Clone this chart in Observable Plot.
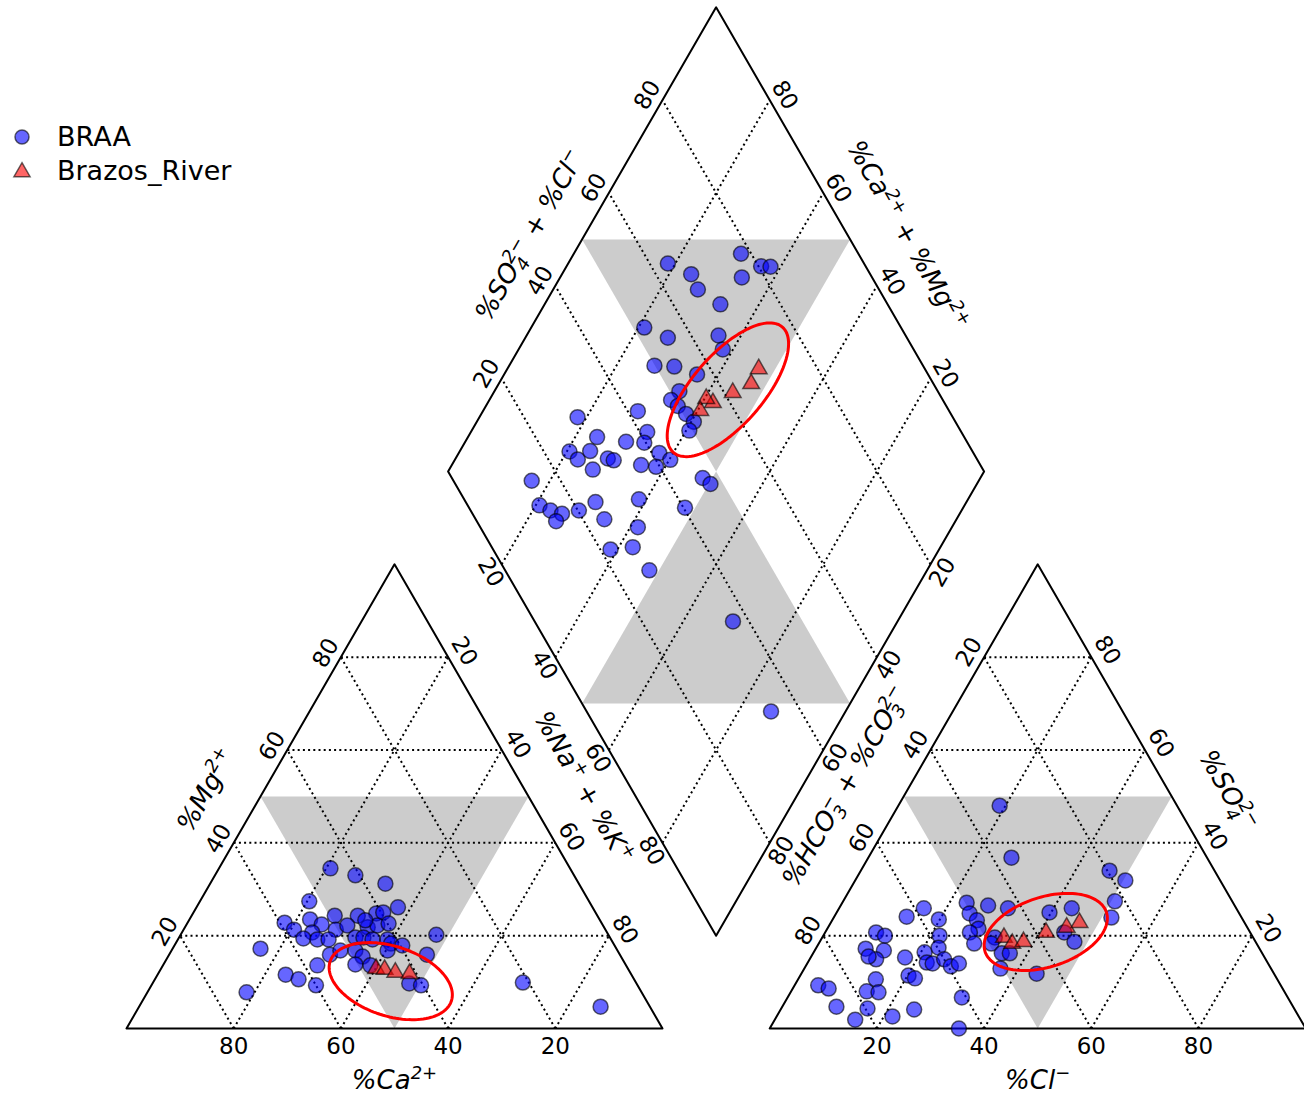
<!DOCTYPE html>
<html><head><meta charset="utf-8">
<script src="https://cdn.jsdelivr.net/npm/d3@7"></script>
<script src="https://cdn.jsdelivr.net/npm/@observablehq/plot@0.6"></script>
<style>
body{margin:0;background:#fff;font-family:"DejaVu Sans",sans-serif;}
#wrap{position:relative;width:1304px;height:1095px;overflow:hidden;}
#legend{position:absolute;left:0;top:0;}
</style></head><body><div id="wrap"></div>
<script>
// ---------- data (percent of meq) ----------
const ticks = [20, 40, 60, 80];
const seriesNames = ["BRAA", "Brazos_River"];
// cation triangle
const braaCa = [44.7,40.8,36.1,52.2,36.3,41.0,39.6,44.7,49.0,59.1,54.0,52.4,58.1,55.0,50.3,47.7,44.1,42.1,39.8,43.8,57.3,54.8,52.7,47.5,46.0,44.5,41.7,41.5,39.6,32.1,66.4,54.1,51.7,48.9,42.9,48.2,57.6,50.4,47.7,36.0,64.5,62.6,60.0,42.4,40.4,73.7,21.1,9.2];
const braaMg = [34.5,33.0,31.2,27.4,26.1,24.8,25.0,24.3,24.3,22.8,23.5,22.4,21.3,20.7,21.3,22.2,21.8,22.2,22.6,23.3,19.4,19.2,19.2,19.6,19.6,19.2,19.2,18.3,17.9,20.2,17.2,15.9,16.8,16.8,16.8,15.5,13.6,13.8,13.6,15.9,11.6,10.6,9.3,9.7,9.3,7.8,9.9,4.7];
const brazosCa = [47.0,45.5,43.8,41.3];
const brazosMg = [12.9,12.7,12.1,11.8];
// anion triangle
const braaCl = [15.8,13.5,19.8,9.5,11.5,21.7,9.3,12.9,17.6,20.7,22.8,12.4,10.7,22.2,23.4,25.1,27.1,20.2,21.7,14.5,4.4,6.7,14.1,16.4,10.1,16.1,24.9,15.0,21.6,18.9,26.7,46.4,50.4,50.7,51.8,23.2,27.5,31.5,24.9,27.0,28.2,27.0,29.0,32.2,32.2,35.2,36.7,36.6,43.9,39.7,43.4,44.6,47.5,28.3,32.5,35.3];
const braaSO4 = [25.9,24.1,23.5,20.7,20.0,20.0,17.2,16.8,15.3,16.4,17.4,14.9,15.5,14.2,14.0,14.9,13.4,11.4,10.8,10.6,9.3,8.6,8.0,7.8,4.7,4.3,4.1,1.9,2.6,48.0,36.8,34.0,31.9,27.4,23.9,27.1,26.5,25.9,24.8,23.3,21.5,20.7,18.3,19.6,18.3,16.2,16.2,12.9,11.8,25.0,25.9,20.7,18.7,14.0,6.7,0.0];
const brazosCl = [33.9,36.1,38.0,41.2,44.5,46.4];
const brazosSO4 = [19.6,18.3,18.7,20.7,21.8,22.8];
// diamond: SO4+Cl and Ca+Mg
const braaSO4Cl = [78.1,63.4,66.6,66.2,80.5,82.2,75.7,68.8,52.1,55.4,65.1,64.4,49.9,53.5,56.9,51.8,49.3,49.9,50.6,51.2,49.4,41.9,41.4,39.7,41.4,42.7,39.3,36.7,46.8,47.6,30.0,31.5,36.4,24.8,25.5,28.7,31.2,32.1,27.2,14.6,13.4,14.9,16.7,14.8,20.2,24.2,32.6,24.0,40.3,29.4,21.9,26.3,26.9,37.0,34.4];
const braaCaMg = [68.8,81.4,75.9,73.0,63.7,61.9,66.1,67.2,78.9,73.4,64.2,61.9,72.9,69.1,64.0,65.5,66.1,64.2,61.8,59.5,59.4,71.1,67.1,66.5,62.6,59.8,61.7,64.7,51.8,49.7,81.7,75.9,70.0,79.5,77.1,75.7,71.6,70.3,73.2,83.4,79.3,76.7,74.2,74.5,71.4,69.2,61.4,65.7,51.9,58.6,61.3,57.4,51.8,30.7,13.9];
const brazosSO4Cl = [69.0,66.0,61.6,56.8,56.0,53.6];
const brazosCaMg = [53.1,52.9,55.4,58.0,59.7,59.5];

// ---------- Piper geometry ----------
const H = Math.sqrt(3) / 2;
const cat = (ca, mg) => ({x: 100 - ca - mg / 2, y: mg * H});
const an = (cl, so4) => ({x: 120 + cl + so4 / 2, y: so4 * H});
const dia = (a, c) => ({x: 110 + (a - c) / 2, y: 20 * H + (a + c) * H});

const braaPts = [
  ...braaCa.map((v, i) => cat(v, braaMg[i])),
  ...braaCl.map((v, i) => an(v, braaSO4[i])),
  ...braaSO4Cl.map((v, i) => dia(v, braaCaMg[i]))
];
const brazosPts = [
  ...brazosCa.map((v, i) => cat(v, brazosMg[i])),
  ...brazosCl.map((v, i) => an(v, brazosSO4[i])),
  ...brazosSO4Cl.map((v, i) => dia(v, brazosCaMg[i]))
];

const frames = [
  [cat(100, 0), cat(0, 0), cat(0, 100), cat(100, 0)],
  [an(0, 0), an(100, 0), an(0, 100), an(0, 0)],
  [dia(0, 0), dia(100, 0), dia(100, 100), dia(0, 100), dia(0, 0)]
].flatMap((poly, id) => poly.map(p => ({...p, id})));

const shades = [
  [cat(50, 50), cat(0, 50), cat(50, 0)],
  [an(0, 50), an(50, 50), an(50, 0)],
  [dia(50, 100), dia(100, 50), dia(50, 50)],
  [dia(0, 50), dia(50, 0), dia(50, 50)]
].flatMap((poly, id) => poly.map(p => ({...p, id})));

const grid = [];
for (const v of ticks) {
  grid.push([cat(100 - v, v), cat(0, v)]);
  grid.push([cat(v, 0), cat(v, 100 - v)]);
  grid.push([cat(100 - v, 0), cat(0, 100 - v)]);
  grid.push([an(0, v), an(100 - v, v)]);
  grid.push([an(v, 0), an(v, 100 - v)]);
  grid.push([an(100 - v, 0), an(0, 100 - v)]);
  grid.push([dia(v, 0), dia(v, 100)]);
  grid.push([dia(0, v), dia(100, v)]);
}

// tick label sets: [points, dx, dy, rotate]
const tickSets = [
  [ticks.map(v => ({...cat(v, 0), t: v})), 0, 18, 0],
  [ticks.map(v => ({...cat(100 - v, v), t: v})), -15, -4, -60],
  [ticks.map(v => ({...cat(0, 100 - v), t: v})), 16, -6, 60],
  [ticks.map(v => ({...an(v, 0), t: v})), 0, 18, 0],
  [ticks.map(v => ({...an(0, 100 - v), t: v})), -15, -5, -60],
  [ticks.map(v => ({...an(100 - v, v), t: v})), 16, -7, 60],
  [ticks.map(v => ({...dia(v, 100), t: v})), -15, -5, -60],
  [ticks.map(v => ({...dia(100, v), t: v})), 15, -5, 60],
  [ticks.map(v => ({...dia(0, 100 - v), t: v})), -11, 8, 60],
  [ticks.map(v => ({...dia(100 - v, 0), t: v})), 12, 8, -60]
];

// axis titles (^{..} superscript, _{..} subscript)
const titles = [
  [cat(50, 50), "%Mg^{2+}", -54, -6, -60],
  [cat(50, 0), "%Ca^{2+}", 0, 52, 0],
  [cat(0, 50), "%Na^{+} + %K^{+}", 55, -9, 60],
  [an(0, 50), "%HCO_{3}^{\u2212} + %CO_{3}^{2\u2212}", -58, -10, -60],
  [an(50, 0), "%Cl^{\u2212}", 0, 52, 0],
  [an(50, 50), "%SO_{4}^{2\u2212}", 56, -6, 60],
  [dia(50, 100), "%SO_{4}^{2\u2212} + %Cl^{\u2212}", -52, -4, -60],
  [dia(100, 50), "%Ca^{2+} + %Mg^{2+}", 57, -4, 60]
];

// annotation ellipses (centre in ternary %, semi-axes in % units)
const ellipseDefs = [
  {c: cat(45.6, 10.2), a: 11.9, b: 6.5, ang: -18},
  {c: an(41.1, 20.8), a: 11.9, b: 6.5, ang: 18},
  {c: dia(61.0, 56.6), a: 15.5, b: 6.6, ang: 49}
];
const ellipsePts = ellipseDefs.flatMap((e, id) => d3.range(0, 121).map(k => {
  const t = k / 120 * 2 * Math.PI, th = e.ang * Math.PI / 180;
  return {id,
    x: e.c.x + e.a * Math.cos(th) * Math.cos(t) - e.b * Math.sin(th) * Math.sin(t),
    y: e.c.y + e.a * Math.sin(th) * Math.cos(t) + e.b * Math.cos(th) * Math.sin(t)};
}));

const marks = [
  Plot.line(shades, {x: "x", y: "y", z: "id", fill: "#cccccc", stroke: "none", curve: "linear-closed"}),
  Plot.link(grid, {x1: d => d[0].x, y1: d => d[0].y, x2: d => d[1].x, y2: d => d[1].y,
    stroke: "black", strokeWidth: 2, strokeDasharray: "2,3.2"}),
  Plot.line(frames, {x: "x", y: "y", z: "id", stroke: "black", strokeWidth: 2}),
  ...tickSets.map(([pts, dx, dy, rot]) => Plot.text(pts, {x: "x", y: "y", text: d => String(d.t),
    dx, dy, rotate: rot, fontSize: 23, fill: "black"})),
  ...titles.map(([p, t, dx, dy, rot]) => Plot.text([p], {x: "x", y: "y", text: () => t,
    dx, dy, rotate: rot, fontSize: 26, fontStyle: "italic", fill: "black"})),
  Plot.dot(braaPts, {x: "x", y: "y", r: 7.5, fill: "#0000ff", fillOpacity: 0.6,
    stroke: "#000", strokeOpacity: 0.6, strokeWidth: 1.5}),
  Plot.dot(brazosPts, {x: "x", y: "y", r: 6.2, symbol: "triangle", fill: "#ff0000", fillOpacity: 0.6,
    stroke: "#000", strokeOpacity: 0.6, strokeWidth: 1.5}),
  Plot.line(ellipsePts, {x: "x", y: "y", z: "id", stroke: "red", strokeWidth: 3})
];

const chart = Plot.plot({
  width: 1304, height: 1095, margin: 0,
  x: {domain: [-126 / 5.36, (1304 - 126) / 5.36], axis: null},
  y: {domain: [(1028 - 1095) / 5.36, 1028 / 5.36], axis: null},
  style: {fontFamily: "DejaVu Sans, sans-serif", background: "white"},
  marks
});

// turn ^{..} / _{..} markup into real superscript / subscript tspans (sub+sup stacked)
d3.select(chart).selectAll("text").each(function () {
  const s = this.textContent;
  if (!/[\^_]\{/.test(s)) return;
  const el = d3.select(this);
  el.text("");
  const re = /([\^_])\{([^}]*)\}|([^\^_]+)/g;
  let m, shift = 0, prevSubLen = 0;
  while ((m = re.exec(s)) !== null) {
    if (m[3] !== undefined) {
      el.append("tspan").attr("dy", -shift).text(m[3]);
      shift = 0; prevSubLen = 0;
    } else {
      const sup = m[1] === "^";
      const target = sup ? -10 : 6;
      const ts = el.append("tspan").attr("dy", target - shift).attr("font-size", 18).text(m[2]);
      if (sup && prevSubLen) ts.attr("dx", -11.5 * prevSubLen);
      prevSubLen = sup ? 0 : m[2].length;
      shift = target;
    }
  }
});

const wrap = document.getElementById("wrap");
wrap.appendChild(chart);

// legend
const lg = d3.create("svg").attr("id", "legend").attr("width", 260).attr("height", 200)
  .style("position", "absolute").style("left", "0px").style("top", "0px");
lg.append("circle").attr("cx", 22).attr("cy", 137).attr("r", 7)
  .attr("fill", "#0000ff").attr("fill-opacity", 0.6).attr("stroke", "#000").attr("stroke-opacity", 0.6).attr("stroke-width", 1.5);
lg.append("path").attr("d", d3.symbol(d3.symbolTriangle, Math.PI * 36)()).attr("transform", "translate(22,172)")
  .attr("fill", "#ff0000").attr("fill-opacity", 0.6).attr("stroke", "#000").attr("stroke-opacity", 0.6).attr("stroke-width", 1.5);
lg.append("text").attr("x", 57).attr("y", 146).attr("font-size", 27).attr("font-family", "DejaVu Sans").text(seriesNames[0]);
lg.append("text").attr("x", 57).attr("y", 180).attr("font-size", 27).attr("font-family", "DejaVu Sans").text(seriesNames[1]);
wrap.appendChild(lg.node());
</script></body></html>
